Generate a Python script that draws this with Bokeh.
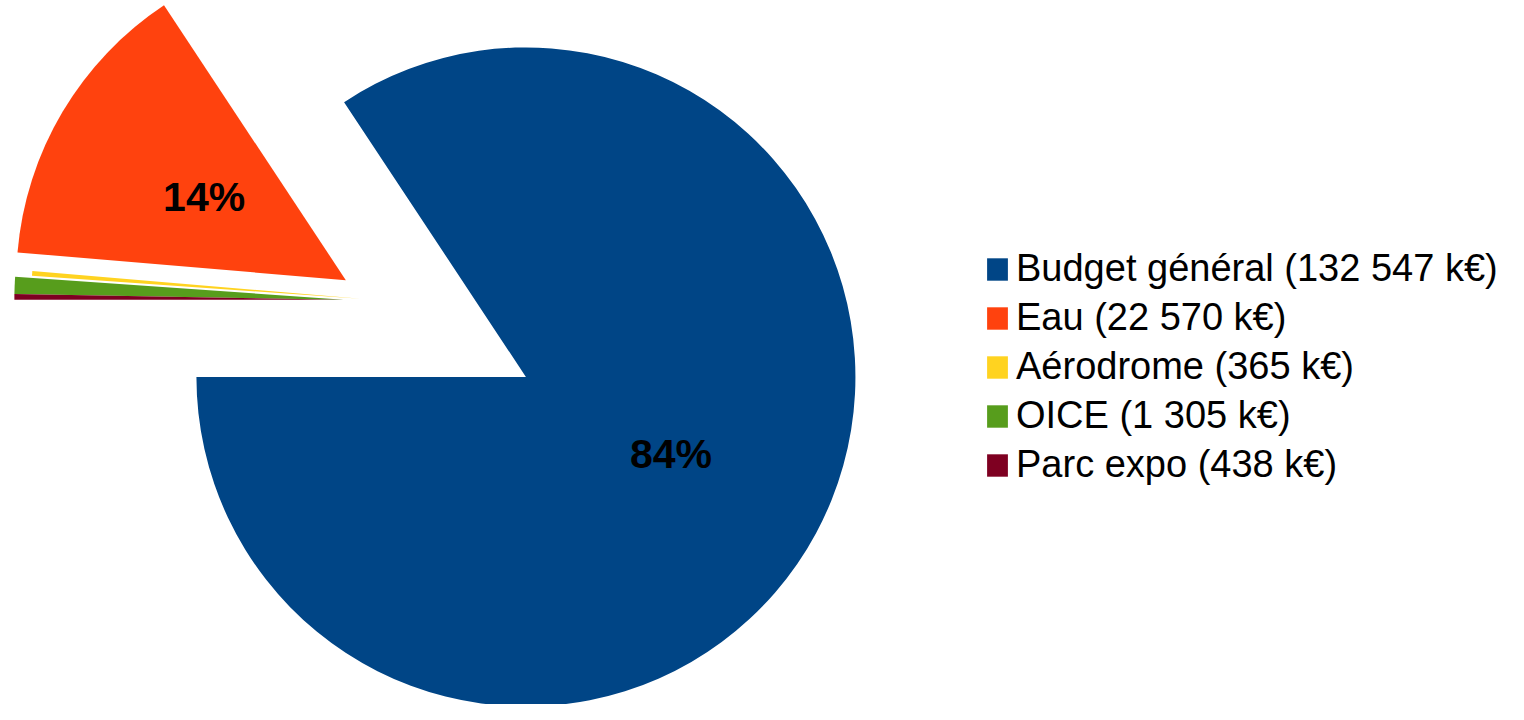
import numpy as np
from bokeh.plotting import figure
from bokeh.models import ColumnDataSource, Range1d, Legend, LegendItem
from bokeh.embed import file_html
from bokeh.resources import INLINE
from bokeh.core.properties import value

# ---- data ----
categories = ["Budget général", "Eau", "Aérodrome", "OICE", "Parc expo"]
amounts_keur = [132547, 22570, 365, 1305, 438]

# ---- styles / layout ----
colors = ["#004586", "#ff420e", "#ffd320", "#579d1c", "#7e0021"]
explode_dx = [0, -182, -167, -184, -184]
explode_dy = [0, 99, 80, 79, 79]
W, H = 1508, 704          # figure size in pixels
XW, YH = 1524, 720        # data extent (reference picture units)
CX, CY, R = 531, 335, 333
FONT = "Liberation Sans"

vals = np.array(amounts_keur, dtype=float)
frac = vals / vals.sum()
ang = frac * 2 * np.pi
start = np.pi + np.concatenate([[0], np.cumsum(ang)[:-1]])
end = start + ang
xs = CX + np.array(explode_dx)
ys = CY + np.array(explode_dy)

labels = [f"{c} ({a:,} k€)".replace(",", " ") for c, a in zip(categories, amounts_keur)]

src = ColumnDataSource(dict(x=xs, y=ys, start=start, end=end, color=colors, label=labels))

p = figure(width=W, height=H, x_range=Range1d(0, XW), y_range=Range1d(0, YH),
           output_backend="svg", toolbar_location=None, min_border=0,
           x_axis_location=None, y_axis_location=None)
p.grid.visible = False
p.outline_line_color = None
p.background_fill_color = "white"

r = p.wedge(x="x", y="y", radius=R, start_angle="start", end_angle="end",
            fill_color="color", line_color=None, source=src)

# percentage labels for the large slices
mid = (start + end) / 2
show = frac >= 0.05
lx = xs[show] + 0.5 * R * np.cos(mid[show])
ly = ys[show] + 0.5 * R * np.sin(mid[show])
ltxt = [f"{round(f * 100):d}%" for f in frac[show]]
p.text(x=lx, y=ly, text=ltxt, text_font=value(FONT), text_font_style="bold",
       text_font_size="41px", text_align="center", text_baseline="middle",
       text_color="black")

legend = Legend(items=[LegendItem(label=lab, renderers=[r], index=i) for i, lab in enumerate(labels)],
                location=(984, 215), orientation="vertical",
                glyph_width=26, glyph_height=28, label_height=49, spacing=0,
                padding=0, margin=0, label_standoff=6,
                label_text_font=FONT, label_text_font_size="38px",
                label_text_color="black",
                border_line_color=None, background_fill_alpha=0)
p.add_layout(legend)

open("out.html", "w").write(file_html(p, INLINE))
